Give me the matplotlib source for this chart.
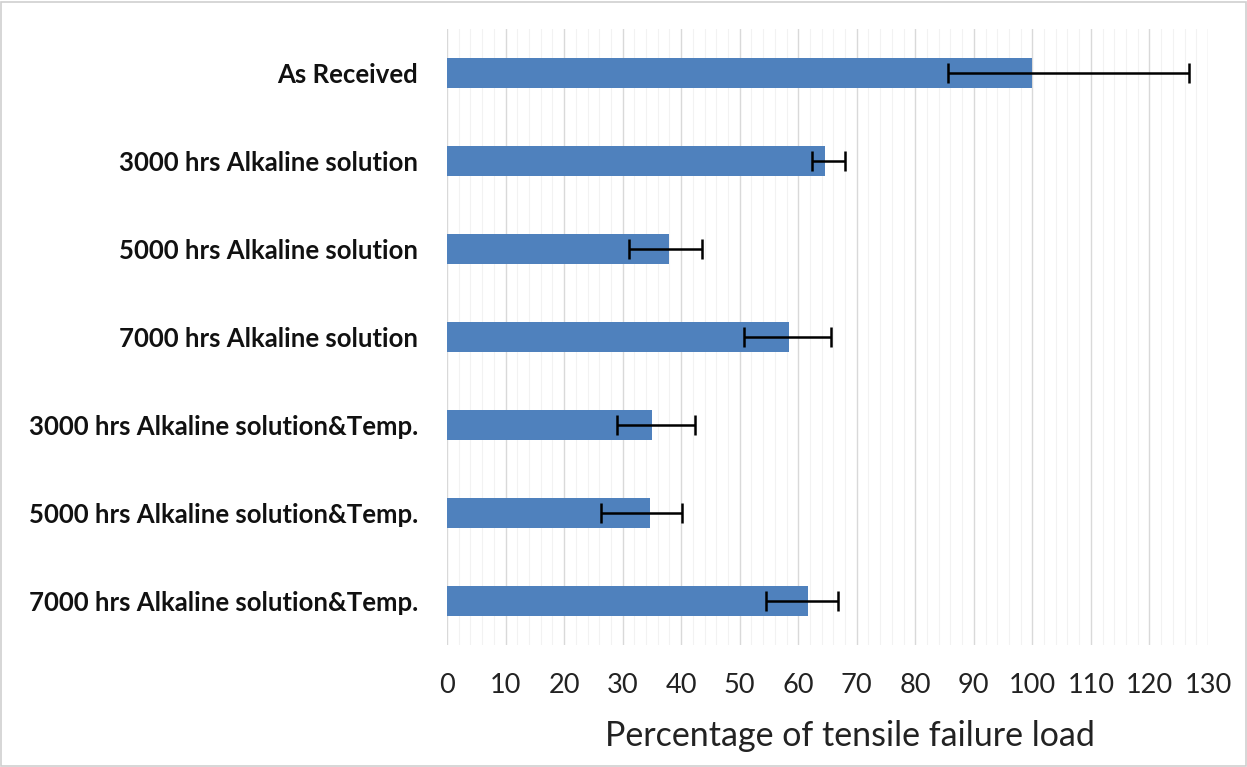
import matplotlib.pyplot as plt
from matplotlib.patches import Rectangle
from matplotlib.ticker import MultipleLocator
import numpy as np

# Tensile retention after alkaline exposure
categories = [
    "As Received",
    "3000 hrs Alkaline solution",
    "5000 hrs Alkaline solution",
    "7000 hrs Alkaline solution",
    "3000 hrs Alkaline solution&Temp.",
    "5000 hrs Alkaline solution&Temp.",
    "7000 hrs Alkaline solution&Temp.",
]
values = [100.0, 64.6, 38.0, 58.5, 35.0, 34.6, 61.7]
err_low = [14.5, 2.3, 6.9, 7.7, 6.0, 8.3, 7.2]
err_high = [26.7, 3.4, 5.6, 7.1, 7.4, 5.5, 5.1]

plt.rcParams['font.family'] = ['Lato', 'DejaVu Sans']

fig = plt.figure(figsize=(12.47, 7.67), dpi=100)
ax = fig.add_axes([0.3585, 0.159, 0.6102, 0.803])

y = np.arange(len(categories))
ax.barh(y, values, height=0.34, color='#4F81BD', zorder=3,
        xerr=[err_low, err_high],
        error_kw=dict(ecolor='black', elinewidth=1.8, capsize=7, capthick=1.8, zorder=4))

ax.set_xlim(0, 130)
ax.set_ylim(len(categories) - 0.5, -0.5)
ax.xaxis.set_major_locator(MultipleLocator(10))
ax.xaxis.set_minor_locator(MultipleLocator(2))
ax.grid(which='major', axis='x', color='#d9d9d9', linewidth=1.0, zorder=0)
ax.grid(which='minor', axis='x', color='#f2f2f2', linewidth=0.8, zorder=0)

ax.set_yticks(y)
ax.set_yticklabels(categories, fontsize=18.5, fontweight='bold', color='#111111')
ax.tick_params(axis='y', length=0, pad=21)
ax.tick_params(axis='x', which='both', length=0, pad=20, labelsize=19.5, labelcolor='#222222')
for s in ax.spines.values():
    s.set_visible(False)

ax.set_xlabel("Percentage of tensile failure load", fontsize=24.5, color='#222222')
ax.xaxis.set_label_coords(0.53, -0.122)

# thin frame around the whole chart
fig.patches.append(Rectangle((0.001, 0.001), 0.998, 0.997, transform=fig.transFigure,
                             fill=False, edgecolor='#cfcfcf', linewidth=1.2))

fig.savefig("out.png", dpi=100)
